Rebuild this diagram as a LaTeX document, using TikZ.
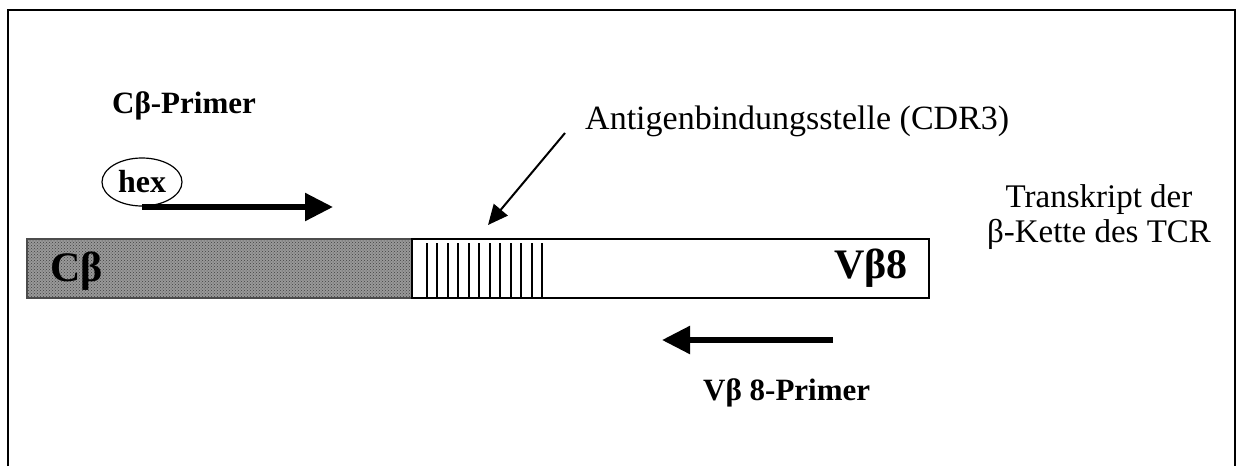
\documentclass[tikz,border=0pt]{standalone}
\usepackage{fontspec}
\setmainfont{Liberation Serif}
\usetikzlibrary{arrows.meta,patterns,shapes.geometric}
\tikzset{
  frameline/.style={line width=2pt},
  primerarrow/.style={line width=5.5pt,-{Triangle[length=28pt,width=27pt]}},
  thinarrow/.style={line width=2pt,-{Triangle[length=20pt,width=18pt]}},
  boldlabel/.style={font=\fontsize{31}{36}\selectfont\bfseries,inner sep=0pt},
  biglabel/.style={font=\fontsize{42}{46}\selectfont\bfseries,inner sep=0pt},
  plainlabel/.style={font=\fontsize{34}{36}\selectfont,inner sep=0pt},
  translabel/.style={font=\fontsize{33}{35}\selectfont,inner sep=0pt},
  stripe/.style={line width=2pt},
}
\begin{document}
\begin{tikzpicture}[x=1pt,y=-1pt]
\useasboundingbox (0,0) rectangle (1238,466);
% frame
\draw[frameline] (8,466) -- (8,10) -- (1235,10) -- (1235,466);
% bar
\fill[black!40] (27,239) rectangle (412,298);
\fill[pattern=crosshatch dots,pattern color=black!75] (27,239) rectangle (412,298);
\draw[line width=1.5pt,black!70] (27,239) rectangle (412,298);
\draw[line width=1.8pt] (412,239) rectangle (929,298);
\foreach \i in {0,...,11}{
  \draw[stripe] ({427+\i*10.45},243) -- ({427+\i*10.45},297);
}
\coordinate (cdr) at (488,225);
% labels
\node[biglabel,anchor=base west] (cb) at (50,281) {Cβ};
\node[biglabel,anchor=base west] (vb) at (834,278) {Vβ8};
\node[boldlabel,anchor=base west] (cprimer) at (112,113) {Cβ-Primer};
\node[draw,ellipse,line width=1.2pt,minimum width=80pt,minimum height=48pt,inner sep=0pt,
      font=\fontsize{32}{34}\selectfont\bfseries] (hex) at (142,182) {hex};
\coordinate (ca0) at (142,207);
\coordinate (ca1) at (333,207);
\draw[primerarrow] (ca0) -- (ca1);
\node[plainlabel,anchor=base west] (antigen) at (585,129) {Antigenbindungsstelle (CDR3)};
\coordinate (aa0) at (565,133);
\draw[thinarrow] (aa0) -- (cdr);
\node[translabel,align=center,anchor=base] (trans) at (1099,242) {Transkript der\\[0pt]β-Kette des TCR};
\coordinate (va0) at (833,340);
\coordinate (va1) at (662,340);
\draw[primerarrow] (va0) -- (va1);
\node[boldlabel,anchor=base west] (vprimer) at (703,400) {Vβ 8-Primer};
\end{tikzpicture}
\end{document}
